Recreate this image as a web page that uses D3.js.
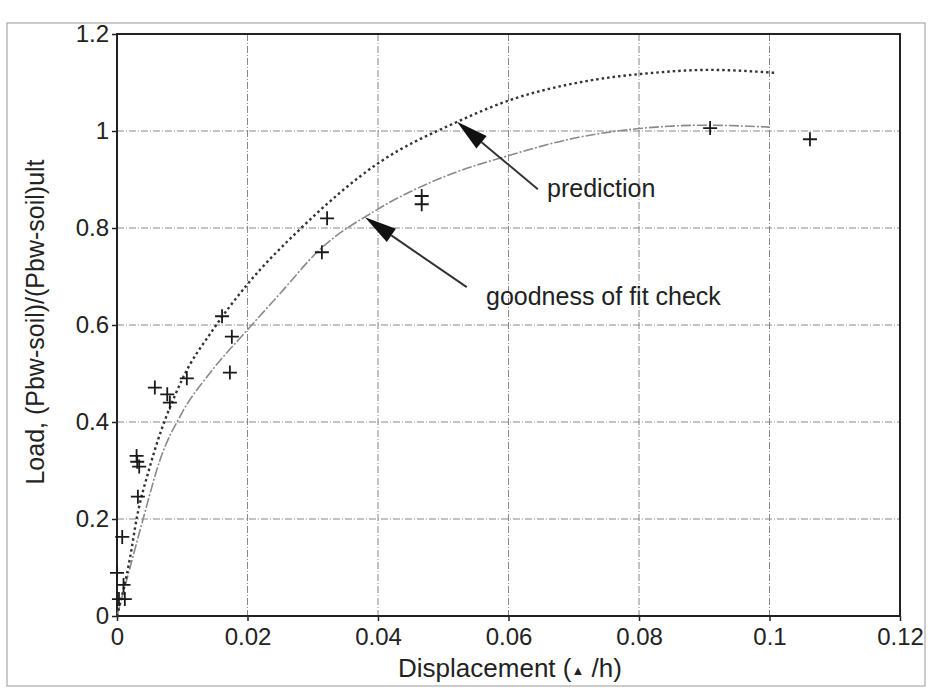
<!DOCTYPE html>
<html lang="en">
<head>
<meta charset="utf-8">
<title>Load vs displacement</title>
<style type="text/css">
    body { margin: 0; background: #fff; }
    svg { display: block; font-family: 'Liberation Sans', Arial, sans-serif; }
</style>
<script type="text/javascript" src="https://cdn.jsdelivr.net/npm/d3@7"></script>
</head>
<body>
<script type="text/javascript">
    // ---- data ----
    var xTicks = [0, 0.02, 0.04, 0.06, 0.08, 0.1, 0.12];
    var xTickLabels = ["0", "0.02", "0.04", "0.06", "0.08", "0.1", "0.12"];
    var yTicks = [0, 0.2, 0.4, 0.6, 0.8, 1, 1.2];
    var yTickLabels = ["0", "0.2", "0.4", "0.6", "0.8", "1", "1.2"];

    // measured points (+)
    var testX = [0.0003, 0.0012, 0.001, 0.0, 0.0008, 0.0032, 0.003, 0.0031, 0.0034,
                 0.0058, 0.0077, 0.0081, 0.0107, 0.0161, 0.0176, 0.0173,
                 0.0322, 0.0314, 0.0467, 0.0467, 0.0909, 0.1062];
    var testY = [0.035, 0.035, 0.064, 0.089, 0.163, 0.246, 0.33, 0.318, 0.308,
                 0.471, 0.457, 0.44, 0.49, 0.618, 0.576, 0.502,
                 0.82, 0.75, 0.866, 0.849, 1.006, 0.983];

    // prediction curve (dotted)
    var predX = [0, 0.002, 0.003, 0.005, 0.01, 0.0147, 0.02, 0.028, 0.0403, 0.052, 0.0607, 0.07, 0.077, 0.0806, 0.0909, 0.1008];
    var predY = [0, 0.12, 0.2, 0.306, 0.488, 0.59, 0.684, 0.797, 0.936, 1.018, 1.066, 1.098, 1.113, 1.118, 1.126, 1.12];

    // goodness of fit check curve (light)
    var fitX = [0, 0.002, 0.004, 0.0066, 0.01, 0.0143, 0.02, 0.025, 0.0308, 0.04, 0.05, 0.0607, 0.07, 0.08, 0.09, 0.1];
    var fitY = [0, 0.1, 0.2, 0.322, 0.42, 0.502, 0.59, 0.665, 0.752, 0.839, 0.905, 0.952, 0.985, 1.005, 1.012, 1.008];

    // annotations: label, arrow tail and tip in data units
    var noteText = ["prediction", "goodness of fit check"];
    var noteTail = [[0.0645, 0.88], [0.0536, 0.678]];
    var noteTip = [[0.0521, 1.019], [0.038, 0.822]];

    var svgW = 931;
    var svgH = 696;
    var svg = d3.select("body").append("svg")
        .attr("width", svgW)
        .attr("height", svgH);

    var plotL = 117, plotR = 900, plotT = 34, plotB = 616;

    var x = d3.scaleLinear().domain([0, 0.12]).range([plotL, plotR]);
    var y = d3.scaleLinear().domain([0, 1.2]).range([plotB, plotT]);

    /* OUTER FRAME */
    svg.append("rect")
        .attr("x", 7)
        .attr("y", 23)
        .attr("width", 918)
        .attr("height", 663)
        .attr("fill", "none")
        .attr("stroke", "#aaa")
        .attr("stroke-width", 1.2);

    /* GRID */
    var grid = svg.append("g");
    grid.selectAll("line.gx")
        .data(xTicks.slice(1, -1))
        .enter().append("line")
        .attr("x1", d => x(d)).attr("x2", d => x(d))
        .attr("y1", plotT).attr("y2", plotB)
        .attr("stroke", "#888")
        .attr("stroke-width", 1)
        .attr("stroke-dasharray", "7,2,1,2");
    grid.selectAll("line.gy")
        .data(yTicks.slice(1, -1))
        .enter().append("line")
        .attr("y1", d => y(d)).attr("y2", d => y(d))
        .attr("x1", plotL).attr("x2", plotR)
        .attr("stroke", "#888")
        .attr("stroke-width", 1)
        .attr("stroke-dasharray", "7,2,1,2");

    /* AXES */
    var xAxis = d3.axisBottom(x)
        .tickValues(xTicks)
        .tickFormat((d, i) => xTickLabels[i])
        .tickSize(5)
        .tickSizeOuter(0);
    var yAxis = d3.axisLeft(y)
        .tickValues(yTicks)
        .tickFormat((d, i) => yTickLabels[i])
        .tickSize(5)
        .tickSizeOuter(0);

    var gx = svg.append("g")
        .attr("transform", "translate(0," + plotB + ")")
        .call(xAxis);
    gx.select(".domain").remove();
    gx.selectAll("line").attr("stroke", "#222").attr("stroke-width", 1.5);
    gx.selectAll("text")
        .attr("font-size", 24)
        .attr("fill", "#222")
        .attr("y", 0)
        .attr("dy", 29);

    var gy = svg.append("g")
        .attr("transform", "translate(" + plotL + ",0)")
        .call(yAxis);
    gy.select(".domain").remove();
    gy.selectAll("line").attr("stroke", "#222").attr("stroke-width", 1.5);
    gy.selectAll("text")
        .attr("font-size", 24)
        .attr("fill", "#222")
        .attr("x", -8);

    // plot box
    svg.append("rect")
        .attr("x", plotL)
        .attr("y", plotT)
        .attr("width", plotR - plotL)
        .attr("height", plotB - plotT)
        .attr("fill", "none")
        .attr("stroke", "#222")
        .attr("stroke-width", 2);

    /* CURVES */
    var line = d3.line()
        .x(d => x(d[0]))
        .y(d => y(d[1]))
        .curve(d3.curveMonotoneX);

    svg.append("path")
        .datum(fitX.map((v, i) => [v, fitY[i]]))
        .attr("d", line)
        .attr("fill", "none")
        .attr("stroke", "#8a8a8a")
        .attr("stroke-width", 1.6)
        .attr("stroke-dasharray", "10,2,2,2");

    svg.append("path")
        .datum(predX.map((v, i) => [v, predY[i]]))
        .attr("d", line)
        .attr("fill", "none")
        .attr("stroke", "#333")
        .attr("stroke-width", 2.4)
        .attr("stroke-dasharray", "2.5,3");

    /* TEST POINTS */
    svg.append("g")
        .selectAll("path")
        .data(testX.map((v, i) => [v, testY[i]]))
        .enter().append("path")
        .attr("d", d => {
            var cx = x(d[0]), cy = y(d[1]), s = 7;
            return "M" + (cx - s) + "," + cy + "H" + (cx + s) +
                "M" + cx + "," + (cy - s) + "V" + (cy + s);
        })
        .attr("stroke", "#1a1a1a")
        .attr("stroke-width", 1.8)
        .attr("fill", "none");

    /* ANNOTATION ARROWS */
    for (var i = 0; i < noteText.length; i++) {
        var tx = x(noteTail[i][0]), ty = y(noteTail[i][1]);
        var hx = x(noteTip[i][0]), hy = y(noteTip[i][1]);
        var ang = Math.atan2(hy - ty, hx - tx);
        var len = 32, half = 8;
        var bx = hx - len * Math.cos(ang), by = hy - len * Math.sin(ang);

        svg.append("line")
            .attr("x1", tx).attr("y1", ty)
            .attr("x2", bx).attr("y2", by)
            .attr("stroke", "#333")
            .attr("stroke-width", 2);

        svg.append("polygon")
            .attr("points", [
                [hx, hy],
                [bx + half * Math.sin(ang), by - half * Math.cos(ang)],
                [bx - half * Math.sin(ang), by + half * Math.cos(ang)]
            ].map(p => p.join(",")).join(" "))
            .attr("fill", "#111");
    }

    svg.append("text")
        .attr("x", 547)
        .attr("y", 197)
        .attr("font-size", 25)
        .attr("fill", "#222")
        .text(noteText[0]);

    svg.append("text")
        .attr("x", 486)
        .attr("y", 305)
        .attr("font-size", 25)
        .attr("fill", "#222")
        .text(noteText[1]);

    /* AXIS TITLES */
    var xt = svg.append("text")
        .attr("x", 510)
        .attr("y", 677)
        .attr("text-anchor", "middle")
        .attr("font-size", 26)
        .attr("fill", "#222");
    xt.append("tspan").text("Displacement (");
    xt.append("tspan").attr("font-size", 13).attr("dy", -2).text("\u25B2");
    xt.append("tspan").attr("dy", 2).text(" /h)");

    svg.append("text")
        .attr("transform", "translate(44,322) rotate(-90)")
        .attr("text-anchor", "middle")
        .attr("font-size", 25)
        .attr("fill", "#222")
        .text("Load, (Pbw-soil)/(Pbw-soil)ult");
</script>
</body>
</html>
